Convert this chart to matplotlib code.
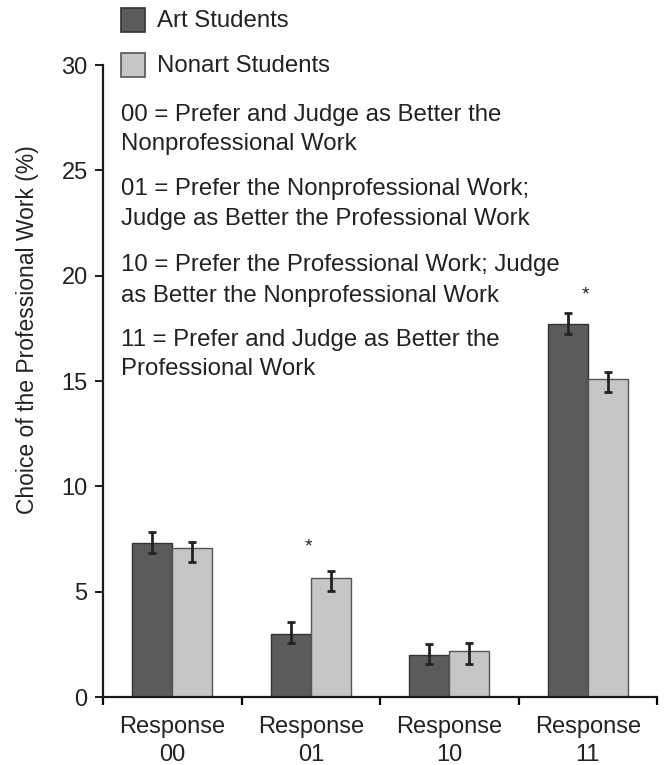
import matplotlib
matplotlib.use("Agg")
import matplotlib.pyplot as plt
import numpy as np
from matplotlib.patches import Rectangle

plt.rcParams['font.family'] = ['Liberation Sans', 'DejaVu Sans']

# --- data -------------------------------------------------------------
categories = ["Response\n00", "Response\n01", "Response\n10", "Response\n11"]
art = [7.3, 3.0, 2.0, 17.7]
art_err_lo = [0.45, 0.45, 0.44, 0.47]
art_err_hi = [0.54, 0.54, 0.53, 0.54]
nonart = [7.05, 5.65, 2.2, 15.1]
nonart_err_lo = [0.64, 0.64, 0.61, 0.64]
nonart_err_hi = [0.32, 0.32, 0.34, 0.33]
significant = [False, True, False, True]
star_y = [0, 7.1, 0, 19.1]

series_names = ["Art Students", "Nonart Students"]
definitions = [
    ("00 = Prefer and Judge as Better the", "Nonprofessional Work"),
    ("01 = Prefer the Nonprofessional Work;", "Judge as Better the Professional Work"),
    ("10 = Prefer the Professional Work; Judge", "as Better the Nonprofessional Work"),
    ("11 = Prefer and Judge as Better the", "Professional Work"),
]
y_ticks = [0, 5, 10, 15, 20, 25, 30]
y_label = "Choice of the Professional Work (%)"

# --- style ------------------------------------------------------------
ART_COLOR = "#5b5b5d"
ART_EDGE = "#333333"
NONART_COLOR = "#c5c6c8"
NONART_EDGE = "#555555"
ERR_COLOR = "#222222"
TXT = "#222222"
FS = 17.0
FS_DEF = 17.3

W, H = 665, 765
fig = plt.figure(figsize=(W / 100, H / 100), dpi=100)
ax = fig.add_axes([103 / W, (H - 697) / H, 554 / W, 632 / H])

x = np.arange(len(categories))
bw = 0.289

ax.bar(x - bw / 2, art, bw, color=ART_COLOR, edgecolor=ART_EDGE, linewidth=1.0, zorder=2)
ax.bar(x + bw / 2, nonart, bw, color=NONART_COLOR, edgecolor=NONART_EDGE, linewidth=1.0, zorder=2)
ax.errorbar(x - bw / 2, art, yerr=[art_err_lo, art_err_hi], fmt="none",
            ecolor=ERR_COLOR, elinewidth=2.0, capsize=3, capthick=2.0, zorder=3)
ax.errorbar(x + bw / 2, nonart, yerr=[nonart_err_lo, nonart_err_hi], fmt="none",
            ecolor=ERR_COLOR, elinewidth=2.0, capsize=3, capthick=2.0, zorder=3)

for xi, sig, sy in zip(x, significant, star_y):
    if sig:
        ax.text(xi - 0.02, sy, "*", ha="center", va="center", fontsize=14, color=TXT)

ax.set_xlim(-0.5, 3.5)
ax.set_ylim(0, 30)

for s in ["top", "right"]:
    ax.spines[s].set_visible(False)
for s in ["left", "bottom"]:
    ax.spines[s].set_linewidth(1.6)
    ax.spines[s].set_color("#1a1a1a")

ax.set_yticks(y_ticks)
ax.tick_params(axis="y", direction="out", length=6, width=1.4, labelsize=FS, pad=5,
               color="#1a1a1a", labelcolor=TXT)

# category labels at group centres, tick marks at group boundaries
ax.set_xticks(x)
ax.set_xticklabels(categories, fontsize=FS, color=TXT, linespacing=1.3)
ax.tick_params(axis="x", which="major", length=0, pad=14)
ax.set_xticks(np.arange(-0.5, 3.6, 1.0), minor=True)
ax.tick_params(axis="x", which="minor", direction="out", length=6, width=1.6)
boundary_colors = ["#9a9a9a", "#1a1a1a", "#1a1a1a", "#9a9a9a", "#1a1a1a"]
for t, c in zip(ax.xaxis.get_minor_ticks(), boundary_colors):
    t.tick1line.set_color(c)

# axis title
fig.text(28 / W, (H - 330) / H, y_label, rotation=90, ha="center", va="center",
         fontsize=16.5, color=TXT)

# legend squares
for i, (name, fc, ec) in enumerate(zip(series_names, [ART_COLOR, NONART_COLOR],
                                       [ART_EDGE, NONART_EDGE])):
    top = 8 + i * 45
    fig.patches.append(Rectangle((121 / W, (H - top - 24) / H), 24 / W, 24 / H,
                                 transform=fig.transFigure, facecolor=fc,
                                 edgecolor=ec, linewidth=1.2))
    fig.text(157 / W, (H - top - 13) / H, name, ha="left", va="center",
             fontsize=FS_DEF, color=TXT)

# code definitions
baselines = [(121.5, 150), (195, 225), (271.5, 301.5), (346.5, 375)]
for (l1, l2), (b1, b2) in zip(definitions, baselines):
    fig.text(121 / W, (H - b1) / H, l1, ha="left", va="baseline", fontsize=FS_DEF, color=TXT)
    fig.text(121 / W, (H - b2) / H, l2, ha="left", va="baseline", fontsize=FS_DEF, color=TXT)

fig.savefig("out.png", dpi=100)
